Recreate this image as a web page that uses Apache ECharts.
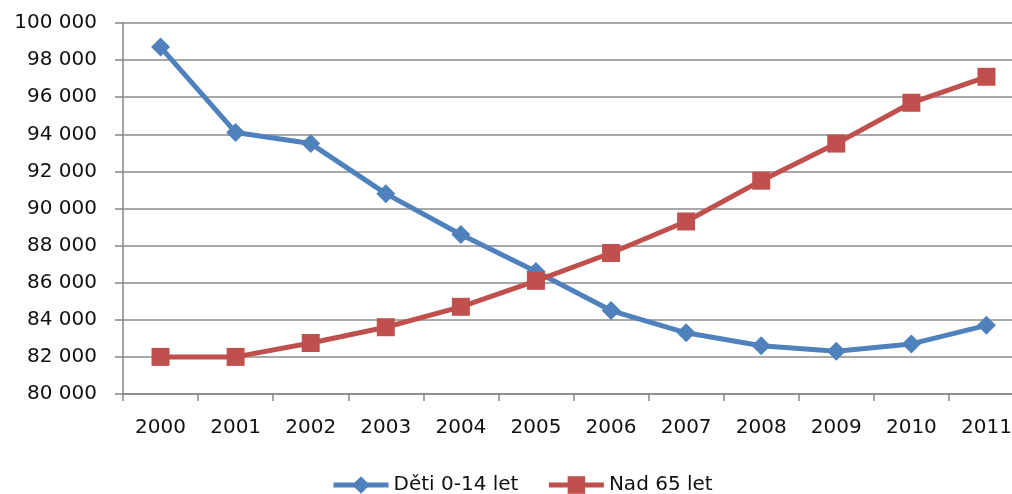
<!DOCTYPE html>
<html>
<head>
<meta charset="utf-8">
<script src="https://cdn.jsdelivr.net/npm/echarts@6/dist/echarts.min.js"></script>
<style>html,body{margin:0;padding:0;background:#fff}#c{width:1012px;height:494px}</style>
</head>
<body>
<div id="c"></div>
<script>
var categories = ['2000','2001','2002','2003','2004','2005','2006','2007','2008','2009','2010','2011'];
var deti = [98700, 94100, 93500, 90800, 88600, 86600, 84500, 83300, 82600, 82300, 82700, 83700];
var nad65 = [82000, 82000, 82750, 83600, 84700, 86100, 87600, 89300, 91500, 93500, 95700, 97100];
var seriesNames = ['Děti 0-14 let', 'Nad 65 let'];

var font = 'DejaVu Sans';
var chart = echarts.init(document.getElementById('c'));
chart.setOption({
  animation: false,
  textStyle: {fontFamily: font},
  grid: {left: 123, top: 23, bottom: 100, right: -12, containLabel: false, outerBoundsMode: 'none'},
  legend: {
    left: 326, top: 470, itemWidth: 55, itemHeight: 22, itemGap: 28,
    lineStyle: {width: 5},
    textStyle: {fontFamily: font, fontSize: 20, color: '#111'},
    data: seriesNames
  },
  xAxis: {
    type: 'category', data: categories, boundaryGap: true,
    axisLine: {lineStyle: {color: '#868686', width: 1.5}},
    axisTick: {show: true, length: 7, lineStyle: {color: '#868686', width: 1.5}},
    axisLabel: {fontFamily: font, fontSize: 20, color: '#111', margin: 24},
    splitLine: {show: false}
  },
  yAxis: {
    type: 'value', min: 80000, max: 100000, interval: 2000,
    axisLine: {show: true, lineStyle: {color: '#868686', width: 1.5}},
    axisTick: {show: true, length: 8, lineStyle: {color: '#868686', width: 1.5}},
    axisLabel: {fontFamily: font, fontSize: 20, color: '#111', margin: 26,
      formatter: function (v) { return String(v).replace(/\B(?=(\d{3})+(?!\d))/g, ' '); }},
    splitLine: {show: true, lineStyle: {color: '#8c8c8c', width: 1.5}}
  },
  series: [
    {name: seriesNames[0], type: 'line', data: deti, symbol: 'diamond', symbolSize: 19,
     lineStyle: {color: '#4F81BD', width: 5}, itemStyle: {color: '#4F81BD'}},
    {name: seriesNames[1], type: 'line', data: nad65, symbol: 'rect', symbolSize: 18,
     lineStyle: {color: '#C0504D', width: 5}, itemStyle: {color: '#C0504D'}}
  ]
});
</script>
</body>
</html>
